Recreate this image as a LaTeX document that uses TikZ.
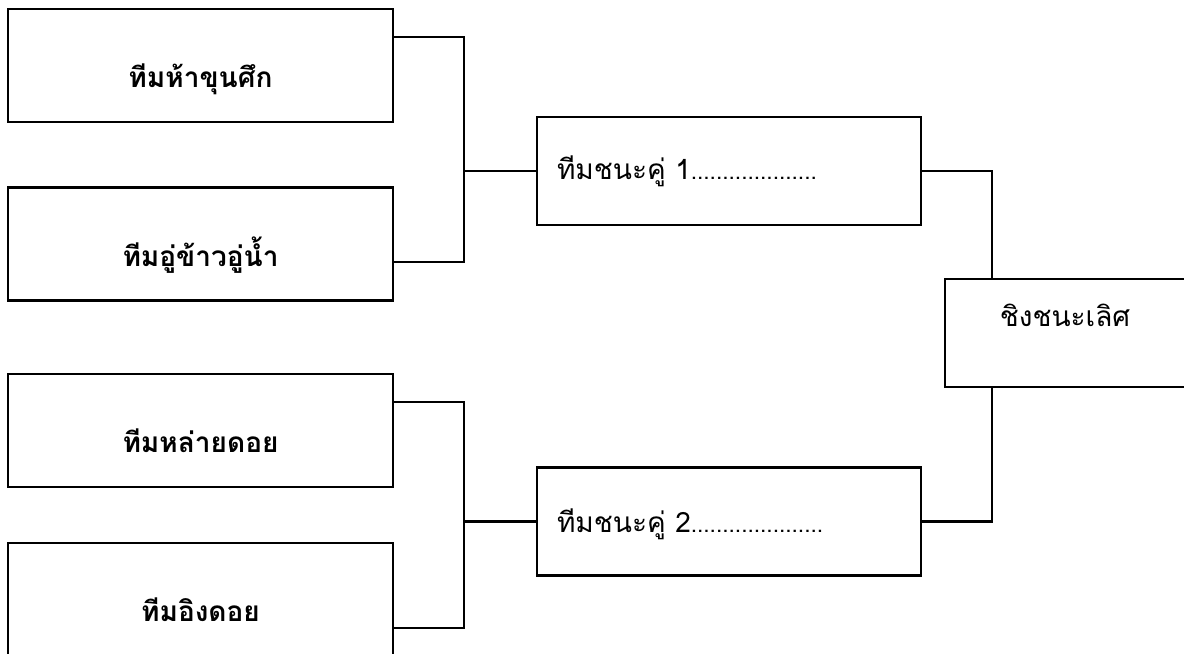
\documentclass[tikz,border=0pt]{standalone}
\usepackage{fontspec}
\newfontfamily\thai[Script=Thai]{Loma}
\usetikzlibrary{calc}

\begin{document}
\begin{tikzpicture}[x=0.75pt, y=-0.75pt, line width=1.6pt]
            % Einheit: 1 Pixel
            \def\px{0.75pt}

            \tikzset{
                kasten/.style={draw, inner sep=0pt, minimum width=385*\px, minimum height=113*\px},
                sieger/.style={draw, inner sep=0pt, minimum width=384*\px, minimum height=108*\px},
                team/.style={anchor=base, inner sep=0pt, font=\thai\bfseries\fontsize{21pt}{24pt}\selectfont},
                eintrag/.style={inner sep=0pt, font=\thai\fontsize{21pt}{24pt}\selectfont},
            }

            \useasboundingbox (0,0) rectangle (1184,653);

            % Teams links
            \foreach \y/\f/\wer [count=\i] in {65.5/0.25/ทีมห้าขุนศึก, 244/0.66/ทีมอู่ข้าวอู่น้ำ, 430.5/0.25/ทีมหล่ายดอย, 599.5/0.75/ทีมอิงดอย} {
                \node[kasten] (b\i) at (200.5,\y) {};
                \node[team] (n\i) at ($(b\i.north)+(0,80)$) {\wer};
                \coordinate (o\i) at ($(b\i.north east)!\f!(b\i.south east)$);
            }

            % Sieger der ersten Runde
            \node[sieger] (w1) at (729,171) {};
            \node[eintrag, anchor=base west] (m1) at ($(w1.north west)+(20,64)$) {ทีมชนะคู่ 1{\fontsize{17pt}{20pt}\selectfont....................}};
            \node[sieger] (w2) at (729,521.5) {};
            \node[eintrag, anchor=base west] (m2) at ($(w2.north west)+(20,66)$) {ทีมชนะคู่ 2{\fontsize{17pt}{20pt}\selectfont.....................}};

            % Finale
            \node[draw, inner sep=0pt, minimum width=240*\px, minimum height=108*\px] (f) at (1065,333) {};
            \node[eintrag, anchor=base] (fn) at ($(f.north)+(0,49)$) {ชิงชนะเลิศ};

            % Verbindungslinien
            \coordinate (j1) at ($(w1.west)+(-72,0)$);
            \coordinate (j2) at ($(w2.west)+(-72,0)$);
            \coordinate (k1) at ($(f.north west)!0.2!(f.north east)$);
            \coordinate (k2) at ($(f.south west)!0.2!(f.south east)$);
            \draw (o1) -| (j1) |- (o2);
            \draw (j1) -- (w1.west);
            \draw (o3) -| (j2) |- (o4);
            \draw (j2) -- (w2.west);
            \draw (w1.east) -| (k1);
            \draw (w2.east) -| (k2);
        \end{tikzpicture}
\end{document}
